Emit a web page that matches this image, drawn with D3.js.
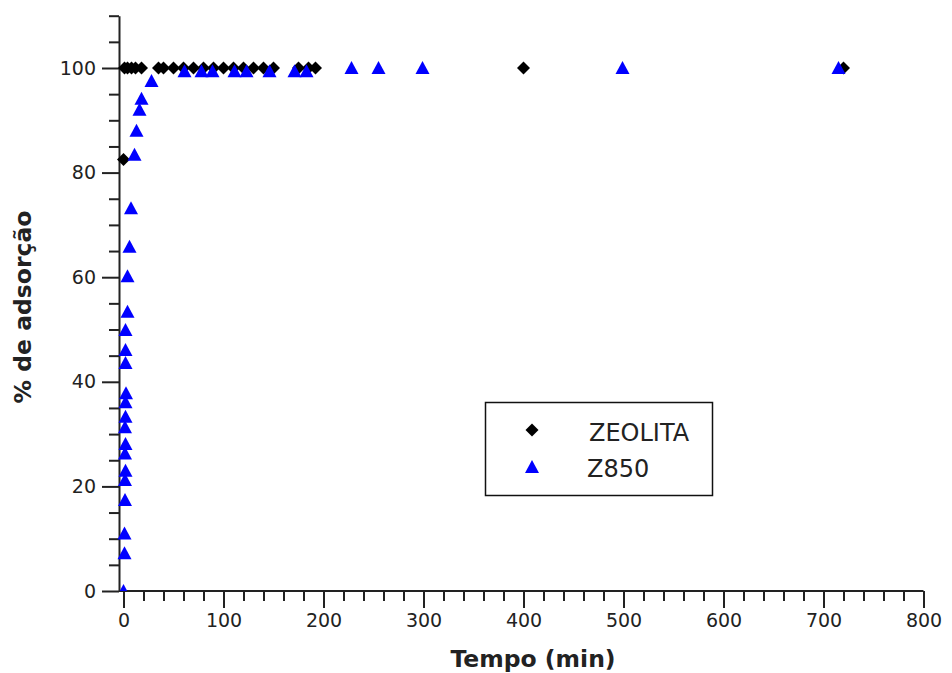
<!DOCTYPE html>
<html>
<head>
<meta charset="utf-8">
<script src="https://cdn.jsdelivr.net/npm/d3@7"></script>
<style>
  html, body { margin: 0; padding: 0; background: #fff; }
  svg { display: block; }
  text { font-family: "DejaVu Sans", Verdana, sans-serif; fill: #222; }
</style>
</head>
<body>
<svg id="chart" width="952" height="673"></svg>
<script>
// Adsorption kinetics: % adsorbed vs contact time (min)
const zeolitaTime  = [0, 1, 4, 8, 12, 18, 35, 40, 50, 60, 70, 80, 90, 100, 110, 120, 130, 140, 150, 175, 185, 192, 400, 720];
const zeolitaValue = [82.5, 100, 100, 100, 100, 100, 100, 100, 100, 100, 100, 100, 100, 100, 100, 100, 100, 100, 100, 100, 100, 100, 100, 100];

const z850Time  = [0, 1, 1, 1.5, 1.5, 2, 1.5, 2, 1.5, 2, 2, 2.5, 2, 2, 2, 4, 4, 6, 7.5, 11, 13, 16, 18, 28,
                   61, 78, 89, 111, 123, 146, 171, 183, 228, 255, 299, 499, 715];
const z850Value = [0, 7.2, 11, 17.4, 21.2, 23, 26.3, 28.1, 31.3, 33.3, 36.1, 37.8, 43.6, 46.1, 49.9, 53.4, 60.2, 65.8, 73.2, 83.4, 88, 92, 94.1, 97.5,
                   99.4, 99.4, 99.4, 99.4, 99.4, 99.4, 99.4, 99.4, 100, 100, 100, 100, 100];

const seriesNames = ["ZEOLITA", "Z850"];
const xMajorTicks = [0, 100, 200, 300, 400, 500, 600, 700, 800];
const yMajorTicks = [0, 20, 40, 60, 80, 100];
const xTitle = "Tempo (min)";
const yTitle = "% de adsorção";

const svg = d3.select("#chart");
const axisColor = "#222";

const x = d3.scaleLinear().domain([-4.5, 800]).range([119, 923.5]);
const y = d3.scaleLinear().domain([0, 110]).range([591, 15.7]);

const xMinor = d3.range(0, 801, 20).filter(v => v % 100 !== 0);
const yMinor = d3.range(0, 111, 5).filter(v => v % 20 !== 0);

// clip marks at the x axis
svg.append("defs").append("clipPath").attr("id", "plotClip")
  .append("rect").attr("x", 0).attr("y", 0).attr("width", 952).attr("height", y(0));

// x axis
const xAxisG = svg.append("g").attr("transform", `translate(0,${y(0)})`)
  .call(d3.axisBottom(x).tickValues(xMajorTicks).tickSize(17).tickSizeOuter(0).tickPadding(6).tickFormat(d3.format("d")));
xAxisG.append("g").call(d3.axisBottom(x).tickValues(xMinor).tickSize(10).tickSizeOuter(0).tickFormat(""))
  .select(".domain").remove();
xAxisG.select(".domain").attr("d", `M${x.range()[0]},0H${x.range()[1]}`);

// y axis
const yAxisG = svg.append("g").attr("transform", `translate(${x(-4.5)},0)`)
  .call(d3.axisLeft(y).tickValues(yMajorTicks).tickSize(17).tickSizeOuter(0).tickPadding(6).tickFormat(d3.format("d")));
yAxisG.append("g").call(d3.axisLeft(y).tickValues(yMinor).tickSize(10).tickSizeOuter(0).tickFormat(""))
  .select(".domain").remove();

svg.selectAll(".domain, .tick line").attr("stroke", axisColor).attr("stroke-width", 2);
svg.selectAll(".tick text").attr("font-size", 19).attr("fill", axisColor)
  .style("font-family", "'DejaVu Sans', sans-serif");

// axis titles
svg.append("text").attr("x", 533).attr("y", 667).attr("text-anchor", "middle")
  .attr("font-size", 23.5).attr("font-weight", "bold").text(xTitle);
svg.append("text").attr("transform", "translate(31,307) rotate(-90)").attr("text-anchor", "middle")
  .attr("font-size", 23.5).attr("font-weight", "bold").text(yTitle);

// marker shapes
const diamond = "M0,-6.5L6.5,0L0,6.5L-6.5,0Z";
const triangle = "M0,-7L7,6L-7,6Z";

const zeolita = zeolitaTime.map((t, i) => ({ t, v: zeolitaValue[i] }));
const z850 = z850Time.map((t, i) => ({ t, v: z850Value[i] }));

const marks = svg.append("g").attr("clip-path", "url(#plotClip)");
marks.selectAll("path.zeo").data(zeolita).join("path").attr("class", "zeo")
  .attr("d", diamond).attr("fill", "#000")
  .attr("transform", d => `translate(${x(d.t)},${y(d.v)})`);
marks.selectAll("path.z850").data(z850).join("path").attr("class", "z850")
  .attr("d", triangle).attr("fill", "#0000ff")
  .attr("transform", d => `translate(${x(d.t)},${y(d.v)})`);

// legend
const legend = svg.append("g");
legend.append("rect").attr("x", 485.5).attr("y", 402.5).attr("width", 227).attr("height", 93)
  .attr("fill", "#fff").attr("stroke", "#111").attr("stroke-width", 1.5);
legend.append("path").attr("d", diamond).attr("fill", "#000").attr("transform", "translate(532,430)");
legend.append("path").attr("d", triangle).attr("fill", "#0000ff").attr("transform", "translate(532,467)");
legend.append("text").attr("x", 589).attr("y", 441).attr("font-size", 24).text(seriesNames[0]);
legend.append("text").attr("x", 587).attr("y", 477).attr("font-size", 24).text(seriesNames[1]);
</script>
</body>
</html>
